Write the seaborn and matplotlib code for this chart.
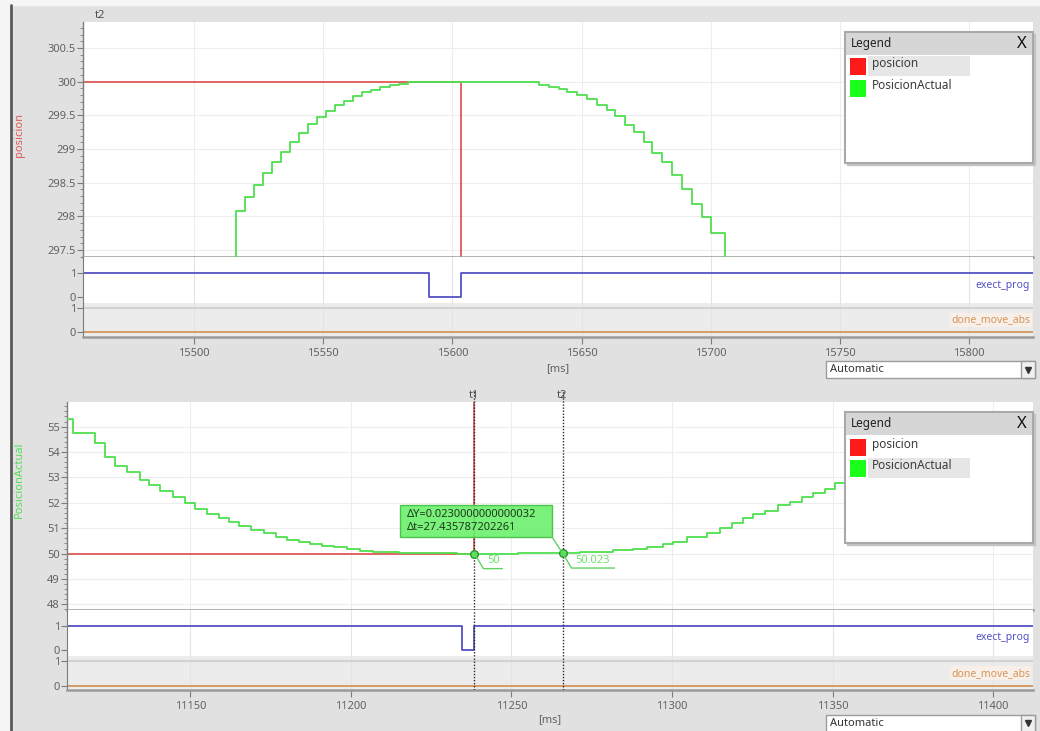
import seaborn as sns
import matplotlib.pyplot as plt
from matplotlib.patches import Rectangle
from matplotlib.ticker import MultipleLocator, FuncFormatter

W, H = 1040, 731

# ---------------- upper trace (ms) ----------------
top_xlim = (15457.1, 15824.7)
top_ylim = (297.396, 300.886)

top_pos_t = [15457.1, 15603.4, 15824.7]
top_pos_v = [300.0, 296.0, 296.0]

top_act_t = [15490.0, 15516.2, 15519.6, 15523.2, 15526.6, 15530.2, 15533.8, 15537.2, 15540.8, 15544.2,
             15547.8, 15551.2, 15554.6, 15558.0, 15561.6, 15565.2, 15568.6, 15572.2, 15575.8, 15579.4,
             15582.8, 15586.4, 15625.8, 15633.6, 15637.4, 15641.3, 15644.5, 15648.3, 15652.2, 15656.1,
             15660.0, 15663.1, 15667.0, 15670.2, 15674.1, 15677.3, 15681.2, 15685.0, 15688.9, 15692.7,
             15696.6, 15700.2, 15705.4, 15740.0]
top_act_v = [297.0, 298.08, 298.29, 298.47, 298.64, 298.80, 298.96, 299.10, 299.24, 299.37,
             299.47, 299.57, 299.65, 299.72, 299.78, 299.84, 299.88, 299.92, 299.95, 299.97,
             299.99, 300.0, 299.99, 299.95, 299.92, 299.89, 299.85, 299.80, 299.745, 299.66,
             299.58, 299.49, 299.36, 299.25, 299.10, 298.94, 298.80, 298.62, 298.41, 298.18,
             297.99, 297.75, 297.0, 297.0]

top_exec_t = [15457.1, 15591.1, 15603.3, 15824.7]
top_exec_v = [1, 0, 1, 1]
top_done_t = [15457.1, 15824.7]
top_done_v = [0, 0]

# ---------------- lower trace (ms) ----------------
bot_xlim = (11111.6, 11412.4)
bot_ylim = (47.78, 55.97)

bot_pos_t = [11111.6, 11238.46, 11412.4]
bot_pos_v = [50.0, 60.0, 60.0]

bot_act_t = [11111.6, 11113.5, 11120.2, 11123.5, 11126.6, 11130.2, 11134.2, 11137.0, 11140.6, 11144.6,
             11148.4, 11151.5, 11155.2, 11158.8, 11161.9, 11165.3, 11168.9, 11172.8, 11176.7, 11180.1,
             11183.7, 11187.3, 11191.0, 11194.6, 11198.7, 11202.9, 11207.0, 11211.0, 11215.0, 11220.0,
             11226.0, 11233.0, 11252.0, 11262.0, 11271.4, 11276.6, 11281.6, 11287.8, 11292.2, 11297.2,
             11300.3, 11304.7, 11310.9, 11314.9, 11318.6, 11322.1, 11325.2, 11328.9, 11333.0, 11336.7,
             11340.4, 11343.9, 11347.6, 11350.7, 11354.4, 11358.0, 11362.0, 11366.0, 11370.0, 11374.0,
             11378.0, 11382.0, 11386.0, 11390.0, 11394.0, 11398.0, 11402.0, 11406.0, 11412.4]
bot_act_v = [55.29, 54.74, 54.35, 53.79, 53.45, 53.23, 52.90, 52.70, 52.48, 52.22,
             51.98, 51.76, 51.56, 51.39, 51.26, 51.10, 50.93, 50.80, 50.64, 50.54,
             50.44, 50.38, 50.30, 50.25, 50.18, 50.10, 50.07, 50.05, 50.03, 50.02,
             50.01, 50.00, 50.01, 50.023, 50.05, 50.07, 50.13, 50.20, 50.27, 50.38,
             50.47, 50.66, 50.80, 51.00, 51.19, 51.39, 51.56, 51.69, 51.91, 52.04,
             52.22, 52.37, 52.54, 52.77, 52.95, 53.12, 53.30, 53.48, 53.66, 53.85,
             54.04, 54.24, 54.44, 54.64, 54.85, 55.06, 55.27, 55.48, 55.48]

bot_exec_t = [11111.6, 11234.5, 11238.46, 11412.4]
bot_exec_v = [1, 0, 1, 1]
bot_done_t = [11111.6, 11412.4]
bot_done_v = [0, 0]

cursor_t = [11238.46, 11265.896]
cursor_v = [50.0, 50.023]
cursor_names = ['t1', 't2']
cursor_labels = ['50', '50.023']
delta_text = 'ΔY=0.0230000000000032\nΔt=27.435787202261'

RED = '#e05858'
GREEN = '#4ee04e'
BLUE = '#5252c4'
ORANGE = '#d4955a'
TICK = '#7c7c7c'
LABEL = '#626262'

sns.set_style('white')
plt.rcParams['font.family'] = ['Noto Sans', 'DejaVu Sans']

fig = plt.figure(figsize=(W / 100, H / 100), dpi=100)
fig.patch.set_facecolor('#e1e1e1')


def px_axes(left, top, right, bottom):
    return fig.add_axes([left / W, 1 - bottom / H, (right - left) / W, (bottom - top) / H])


def step(ax, t, v, color, lw=1.3, z=2):
    sns.lineplot(x=t, y=v, ax=ax, color=color, lw=lw, drawstyle='steps-post',
                 estimator=None, sort=False, legend=False, zorder=z)


fmt = FuncFormatter(lambda v, p: f'{v:g}')

# background frame
bg = px_axes(0, 0, W, H)
bg.set_xlim(0, W)
bg.set_ylim(H, 0)
bg.axis('off')
bg.add_patch(Rectangle((0, 0), W, 5, color='#f5f5f5'))
bg.add_patch(Rectangle((0, 0), 10, H, color='#f5f5f5'))
bg.plot([11, 11], [5, H], color='#5a5a5a', lw=2)


def style_main(ax, xlim, ylim, major, minor):
    ax.set_xlim(xlim)
    ax.set_ylim(ylim)
    ax.set_facecolor('white')
    ax.xaxis.set_major_locator(MultipleLocator(50))
    ax.yaxis.set_major_locator(MultipleLocator(major))
    ax.yaxis.set_minor_locator(MultipleLocator(minor))
    ax.yaxis.set_major_formatter(fmt)
    ax.grid(True, which='major', color='#ededed', lw=0.8)
    ax.tick_params(axis='y', which='major', left=True, direction='out', length=4, width=0.8,
                   color=TICK, labelsize=8, labelcolor=LABEL, pad=1)
    ax.tick_params(axis='y', which='minor', left=True, direction='out', length=2, width=0.6, color=TICK)
    ax.tick_params(axis='x', bottom=True, direction='out', length=5, width=0.8, color=TICK,
                   labelbottom=False)
    for s in ['top', 'right']:
        ax.spines[s].set_visible(False)
    ax.spines['left'].set_color(TICK)
    ax.spines['left'].set_linewidth(1.0)
    ax.spines['bottom'].set_color('#9a9a9a')
    ax.spines['bottom'].set_linewidth(1.8)
    ax.set_xlabel('')
    ax.set_ylabel('')


def style_sig(ax, xlim, ylim, face, bottom_labels):
    ax.set_xlim(xlim)
    ax.set_ylim(ylim)
    ax.set_facecolor(face)
    ax.set_yticks([0, 1])
    ax.set_yticklabels(['0', '1'])
    ax.xaxis.set_major_locator(MultipleLocator(50))
    ax.xaxis.set_major_formatter(fmt)
    ax.grid(True, axis='x', color='#e4e4e4', lw=0.8)
    ax.tick_params(axis='y', left=True, direction='out', length=4, width=0.8, color=TICK,
                   labelsize=8, labelcolor=LABEL, pad=1)
    ax.tick_params(axis='x', bottom=bottom_labels, labelbottom=bottom_labels, direction='out',
                   length=5, width=0.8, color=TICK, labelsize=8, labelcolor=LABEL, pad=3)
    for s in ['top', 'right']:
        ax.spines[s].set_visible(False)
    ax.spines['left'].set_color(TICK)
    ax.spines['bottom'].set_visible(bottom_labels)
    ax.spines['bottom'].set_color('#9a9a9a')
    ax.spines['bottom'].set_linewidth(1.8)
    ax.set_xlabel('')
    ax.set_ylabel('')


def sig_labels(ax_exec, ax_done):
    ax_exec.text(0.997, 0.5, 'exect_prog', transform=ax_exec.get_yaxis_transform(),
                 ha='right', va='center', fontsize=7.5, color=BLUE)
    ax_done.text(0.997, 0.5, 'done_move_abs', transform=ax_done.get_yaxis_transform(),
                 ha='right', va='center', fontsize=7.5, color=ORANGE,
                 bbox=dict(facecolor='#f8f0e8', edgecolor='none', pad=1))


# ---------------- upper panel ----------------
ax1 = px_axes(83, 22, 1033, 257)
step(ax1, top_pos_t, top_pos_v, RED)
step(ax1, top_act_t, top_act_v, GREEN, z=3)
style_main(ax1, top_xlim, top_ylim, 0.5, 0.1)

ax1e = px_axes(83, 257, 1033, 303)
step(ax1e, top_exec_t, top_exec_v, BLUE)
style_sig(ax1e, top_xlim, (-0.23, 1.64), 'white', False)

ax1d = px_axes(83, 303, 1033, 337)
ax1d.axhline(1, color='#d2d2d2', lw=1.5, zorder=1)
step(ax1d, top_done_t, top_done_v, ORANGE)
style_sig(ax1d, top_xlim, (-0.19, 1.19), '#ececec', True)
sig_labels(ax1e, ax1d)

# ---------------- lower panel ----------------
ax2 = px_axes(67, 402, 1033, 610)
step(ax2, bot_pos_t, bot_pos_v, RED)
step(ax2, bot_act_t, bot_act_v, GREEN, z=3)
style_main(ax2, bot_xlim, bot_ylim, 1, 0.2)

ax2e = px_axes(67, 610, 1033, 656)
step(ax2e, bot_exec_t, bot_exec_v, BLUE)
style_sig(ax2e, bot_xlim, (-0.25, 1.65), 'white', False)

ax2d = px_axes(67, 656, 1033, 690)
ax2d.axhline(1, color='#d2d2d2', lw=1.5, zorder=1)
step(ax2d, bot_done_t, bot_done_v, ORANGE)
style_sig(ax2d, bot_xlim, (-0.17, 1.19), '#ececec', True)
sig_labels(ax2e, ax2d)

# measurement cursors
for t, name in zip(cursor_t, cursor_names):
    ax2.axvline(t, ymin=0, ymax=1.058, clip_on=False, color='#2a2a2a', lw=1,
                ls=(0, (1, 1.2)), zorder=4)
    ax2e.axvline(t, color='#2a2a2a', lw=1, ls=(0, (1, 1.2)), zorder=4)
    ax2d.axvline(t, color='#2a2a2a', lw=1, ls=(0, (1, 1.2)), zorder=4)
    ax2.text(t, 1.03, name, transform=ax2.get_xaxis_transform(), ha='center', va='center',
             fontsize=8, color='#505050')

sns.scatterplot(x=cursor_t, y=cursor_v, ax=ax2, s=30, color='#5ce65c', edgecolor='#2e8f2e',
                linewidth=1, zorder=6, legend=False)
ax2.set_xlabel('')
ax2.set_ylabel('')

# ---------------- overlay (pixel coordinates) ----------------
ov = px_axes(0, 0, W, H)
ov.set_xlim(0, W)
ov.set_ylim(H, 0)
ov.axis('off')

ov.text(20, 135, 'posicion', rotation=90, ha='center', va='center', fontsize=8, color=RED)
ov.text(19, 480, 'PosicionActual', rotation=90, ha='center', va='center', fontsize=8, color='#55dd55')
ov.text(100, 15, 't2', ha='center', va='center', fontsize=8, color='#505050')
ov.text(558, 369, '[ms]', ha='center', va='center', fontsize=8, color=LABEL)
ov.text(550, 720, '[ms]', ha='center', va='center', fontsize=8, color=LABEL)


def dropdown(y0, y1):
    ov.add_patch(Rectangle((826, y0), 209, y1 - y0, facecolor='white', edgecolor='#9c9c9c', lw=1))
    ov.add_patch(Rectangle((1021, y0), 14, y1 - y0, facecolor='#f0f0f0', edgecolor='#9c9c9c', lw=1))
    ov.text(830, (y0 + min(y1, 731)) / 2, 'Automatic', ha='left', va='center', fontsize=8, color='#333333')
    ov.plot([1028], [(y0 + min(y1, 731)) / 2], marker='v', ms=5, color='#333333')


dropdown(361, 378)
dropdown(715, 733)


def legend_box(x0, y0, x1, y1, hdr, rows_y, hl_row):
    ov.add_patch(Rectangle((x0 + 2, y0 + 2), x1 - x0, y1 - y0, color='#c4c4c4'))
    ov.add_patch(Rectangle((x0, y0), x1 - x0, y1 - y0, facecolor='white', edgecolor='#a9a9a9', lw=1.5))
    ov.add_patch(Rectangle((x0 + 1, y0 + 1), x1 - x0 - 2, hdr - y0 - 1, facecolor='#d6d6d6', edgecolor='none'))
    ov.text(x0 + 6, (y0 + hdr) / 2, 'Legend', fontweight='bold', fontsize=8.5, ha='left', va='center',
            color='#222222')
    ov.text(x1 - 11, (y0 + hdr) / 2 + 1, 'X', fontweight='bold', fontsize=12, ha='center', va='center',
            color='#111111')
    ry = rows_y[hl_row]
    ov.add_patch(Rectangle((x0 + 23, ry - 10), 102, 20, facecolor='#e6e6e6', edgecolor='none'))
    for ry, c, name in zip(rows_y, ['#ff1a1a', '#1aff1a'], ['posicion', 'PosicionActual']):
        ov.add_patch(Rectangle((x0 + 5, ry - 8), 16, 17, facecolor=c, edgecolor='none'))
        ov.text(x0 + 27, ry - 2, name, ha='left', va='center', fontsize=8.5, color='#3c3c3c')


legend_box(845, 32, 1033, 163, 55, [66, 87.5], 0)
legend_box(845, 412, 1033, 543, 435, [446.5, 467.5], 1)

# cursor readouts
pix = [ax2.transData.transform((t, v)) for t, v in zip(cursor_t, cursor_v)]
pix = [(p[0], H - p[1]) for p in pix]
for (px, py), lab, ul in zip(pix, cursor_labels, [28, 52]):
    ov.plot([px, px + 9, px + ul], [py, py + 15, py + 15], color='#5fd35f', lw=1)
    ov.text(px + 13, py + 7, lab, ha='left', va='center', fontsize=8, color='#6ee06e')

ov.plot([552, pix[1][0]], [537, pix[1][1]], color='#5fd35f', lw=1)
ov.add_patch(Rectangle((400, 505), 152, 32, facecolor='#6cf06c', edgecolor='#3fbf3f', lw=1, alpha=0.9))
ov.text(407, 521, delta_text, ha='left', va='center', fontsize=8, color='#1d3a1d', linespacing=1.25)

fig.savefig('out.png', dpi=100, facecolor=fig.get_facecolor())
